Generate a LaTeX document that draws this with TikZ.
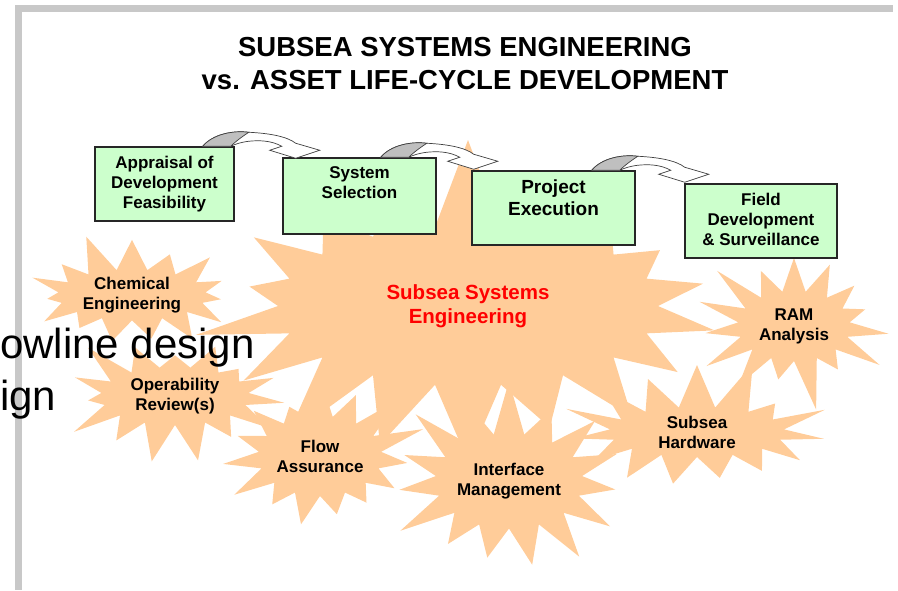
\documentclass[tikz,border=0pt]{standalone}
\usepackage{fontspec}
\setmainfont{Liberation Sans}
\usetikzlibrary{shapes.symbols}
\definecolor{peach}{HTML}{FFCC99}
\definecolor{mint}{HTML}{CCFFCC}
\definecolor{rim}{HTML}{C8C8C8}

\begin{document}
\begin{tikzpicture}[x=1pt,y=-1pt,
    burst/.style={starburst, fill=peach, inner sep=0pt, starburst points=15,
        align=center, font=\bfseries\fontsize{17}{20}\selectfont},
    stage/.style={draw=black!85, line width=1.5pt, fill=mint},
    stagetext/.style={anchor=north, yshift=-6pt, align=center,
        font=\bfseries\fontsize{17}{20}\selectfont},
    pics/hop/.style={code={
        \draw[draw=black!75, fill=white, line width=0.7pt] (0,0)
            .. controls (10,-12) and (30,-16) .. (46,-14)
            .. controls (66,-13) and (84,-10) .. (93,-3)
            -- (117,4) -- (93,12) -- (67,4) -- (79,0)
            .. controls (68,-6) and (56,-6) .. (46,-5)
            .. controls (38,-4) and (32,-2) .. (28,0) -- cycle;
        \draw[draw=black!75, fill=black!25, line width=0.7pt] (0,0)
            .. controls (10,-12) and (30,-16) .. (46,-14)
            .. controls (40,-10) and (33,-5) .. (28,0) -- cycle;
    }}]
\useasboundingbox (0,0) rectangle (898,590);

% disciplines
\node[burst, minimum width=570pt, minimum height=350pt, starburst points=18,
      starburst point height=95pt, random starburst=7, text=red,
      font=\bfseries\fontsize{20.5}{24}\selectfont] (core) at (468,306) {Subsea Systems\\Engineering};
\node[burst, minimum width=228pt, minimum height=118pt, starburst point height=40pt, random starburst=11] (chem) at (132,295) {Chemical\\Engineering};
\node[burst, minimum width=238pt, minimum height=148pt, starburst point height=45pt, random starburst=23] (oper) at (175,396) {Operability\\Review(s)};
\node[burst, minimum width=232pt, minimum height=190pt, starburst point height=55pt, random starburst=31] (flow) at (320,456) {Flow\\Assurance};
\node[burst, minimum width=230pt, minimum height=205pt, starburst point height=55pt, random starburst=43] (intf) at (509,481) {Interface\\Management};
\node[burst, minimum width=285pt, minimum height=160pt, starburst point height=55pt, random starburst=57] (hw) at (697,432) {Subsea\\Hardware};
\node[burst, minimum width=222pt, minimum height=180pt, starburst point height=55pt, random starburst=61] (ram) at (794,326) {RAM\\Analysis};

% frame
\fill[rim] (15,5) rectangle (893,12);
\fill[rim] (15,5) rectangle (22,590);

% life-cycle stages
\node[stage, minimum width=139pt, minimum height=74pt,
      label={[stagetext]north:Appraisal of\\Development\\Feasibility}] (app) at (164.5,184) {};
\node[stage, minimum width=153pt, minimum height=76pt,
      label={[stagetext]north:System\\Selection}] (sel) at (359.5,196) {};
\node[stage, minimum width=163pt, minimum height=74pt,
      label={[stagetext, font=\bfseries\fontsize{19}{22}\selectfont]north:Project\\Execution}] (exe) at (553.5,208) {};
\node[stage, minimum width=152pt, minimum height=74pt,
      label={[stagetext]north:Field\\Development\\\& Surveillance}] (fld) at (761,221) {};

\pic at ([xshift=-32pt]app.north east) {hop};
\pic at ([xshift=-56pt]sel.north east) {hop};
\pic at ([xshift=-44pt]exe.north east) {hop};

% title
\node[align=center, font=\bfseries\fontsize{27.5}{33}\selectfont] (title) at (465,64)
    {SUBSEA SYSTEMS ENGINEERING\\vs. ASSET LIFE-CYCLE DEVELOPMENT};

% stray text
\node[anchor=base west, inner sep=0pt, font=\fontsize{42}{50}\selectfont] (ovla) at (0,358) {owline design};
\node[anchor=base west, inner sep=0pt, font=\fontsize{42}{50}\selectfont] (ovlb) at (0,410) {ign};
\end{tikzpicture}
\end{document}
